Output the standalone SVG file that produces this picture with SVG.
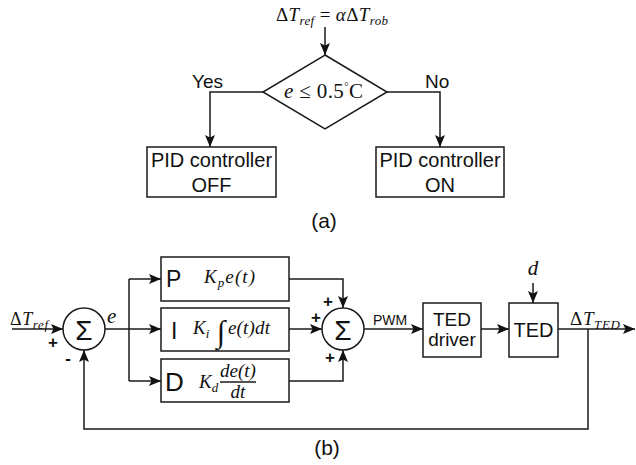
<svg xmlns="http://www.w3.org/2000/svg" width="636" height="465" viewBox="0 0 636 465">
<style>
.bx{fill:#fff;stroke:#1a1a1a;stroke-width:1.5}
.ln{fill:none;stroke:#1a1a1a;stroke-width:1.5}
.s{font-family:"Liberation Sans",Arial,sans-serif;fill:#111}
.m{font-family:"Liberation Serif","DejaVu Serif",serif;font-style:italic;fill:#111}
.u{font-style:normal}
.pl{font-family:"Liberation Sans",Arial,sans-serif;font-weight:bold;font-size:17px;fill:#111;text-anchor:middle}
</style>
<defs>
<marker id="ah" viewBox="0 0 12 10" refX="12" refY="5" markerWidth="12" markerHeight="10" markerUnits="userSpaceOnUse" orient="auto">
<path d="M0,0 L12,5 L0,10 L2.5,5 z" fill="#111"/>
</marker>
</defs>
<rect width="636" height="465" fill="#fff"/>

<g id="connectors" class="ln">
<path d="M325,27 V55" marker-end="url(#ah)"/>
<path d="M263,92 H210 V147" marker-end="url(#ah)"/>
<path d="M387,92 H440 V147" marker-end="url(#ah)"/>
<path d="M12,329 H63" marker-end="url(#ah)"/>
<path d="M105,329 H161" marker-end="url(#ah)"/>
<path d="M129,279 V381"/>
<path d="M129,279 H161" marker-end="url(#ah)"/>
<path d="M129,381 H161" marker-end="url(#ah)"/>
<path d="M289,279 H343 V308" marker-end="url(#ah)"/>
<path d="M289,329 H322" marker-end="url(#ah)"/>
<path d="M289,381 H343 V350" marker-end="url(#ah)"/>
<path d="M364,329 H423" marker-end="url(#ah)"/>
<path d="M481,329 H509" marker-end="url(#ah)"/>
<path d="M533,283 V303" marker-end="url(#ah)"/>
<path d="M558,329 H635" marker-end="url(#ah)"/>
<path d="M588,329 V429 H84 V350" marker-end="url(#ah)"/>
</g>

<g id="ref-label">
<text class="m" x="276" y="21" font-size="19" textLength="112"><tspan class="u">Δ</tspan>T<tspan font-size="13" dy="4">ref</tspan><tspan class="u" dy="-4"> = </tspan>α<tspan class="u">Δ</tspan>T<tspan font-size="13" dy="4">rob</tspan></text>
</g>

<g id="decision">
<polygon class="bx" points="325,55 387,92 325,129 263,92"/>
<text class="m" x="284" y="98" font-size="21" textLength="79">e<tspan class="u"> ≤ 0.5</tspan><tspan class="u" font-size="11" dy="-8">°</tspan><tspan class="u" dy="8">C</tspan></text>
</g>
<text class="s" x="192" y="88" font-size="19">Yes</text>
<text class="s" x="425" y="88" font-size="19">No</text>

<g id="pid-off">
<rect class="bx" x="147" y="147" width="129" height="50"/>
<text class="s" x="211.5" y="167" font-size="20" text-anchor="middle">PID controller</text>
<text class="s" x="211.5" y="192" font-size="20" text-anchor="middle">OFF</text>
</g>
<g id="pid-on">
<rect class="bx" x="376" y="147" width="128" height="50"/>
<text class="s" x="440" y="167" font-size="20" text-anchor="middle">PID controller</text>
<text class="s" x="440" y="192" font-size="20" text-anchor="middle">ON</text>
</g>
<text class="s" x="324" y="228" font-size="21" text-anchor="middle">(a)</text>

<g id="sum1">
<circle class="bx" cx="84" cy="329" r="21"/>
<text class="s" x="84" y="340" font-size="28" text-anchor="middle">Σ</text>
</g>
<text class="m" x="10" y="325" font-size="18" textLength="38"><tspan class="u">Δ</tspan>T<tspan font-size="13" dy="4">ref</tspan></text>
<text class="pl" x="53" y="348">+</text>
<text class="pl" x="68" y="364">-</text>
<text class="m" x="107" y="323" font-size="21">e</text>

<g id="p-block">
<rect class="bx" x="161" y="257" width="128" height="44"/>
<text class="s" x="166" y="287" font-size="23">P</text>
<text class="m" x="204" y="283" font-size="19" textLength="51">K<tspan font-size="13" dy="4">p</tspan><tspan dy="-4">e(t)</tspan></text>
</g>
<g id="i-block">
<rect class="bx" x="161" y="308" width="128" height="43"/>
<text class="s" x="171" y="339" font-size="23">I</text>
<text class="m" x="193" y="334" font-size="19">K<tspan font-size="13" dy="4">i</tspan></text>
<text class="m" x="221" y="342" font-size="31" text-anchor="middle">∫</text>
<text class="m" x="228" y="334" font-size="19" textLength="42">e(t)dt</text>
</g>
<g id="d-block">
<rect class="bx" x="161" y="359" width="128" height="43"/>
<text class="s" x="165" y="391" font-size="26">D</text>
<text class="m" x="199" y="388" font-size="19">K<tspan font-size="13" dy="4">d</tspan></text>
<text class="m" x="238" y="377" font-size="19" text-anchor="middle">de(t)</text>
<line class="ln" x1="220" y1="382" x2="256" y2="382" stroke-width="1.2"/>
<text class="m" x="238" y="398" font-size="19" text-anchor="middle">dt</text>
</g>

<g id="sum2">
<circle class="bx" cx="343" cy="329" r="21"/>
<text class="s" x="343" y="340" font-size="28" text-anchor="middle">Σ</text>
</g>
<text class="pl" x="328" y="307">+</text>
<text class="pl" x="316" y="323">+</text>
<text class="pl" x="330" y="363">+</text>
<text class="s" x="373" y="325" font-size="14">PWM</text>

<g id="ted-driver">
<rect class="bx" x="423" y="303" width="58" height="54"/>
<text class="s" x="452" y="326" font-size="19" text-anchor="middle">TED</text>
<text class="s" x="452" y="346" font-size="19" text-anchor="middle">driver</text>
</g>
<g id="ted">
<rect class="bx" x="509" y="303" width="49" height="54"/>
<text class="s" x="533.5" y="337" font-size="20" text-anchor="middle">TED</text>
</g>
<text class="m" x="533" y="275" font-size="21" text-anchor="middle">d</text>
<text class="m" x="570" y="325" font-size="19" textLength="50"><tspan class="u">Δ</tspan>T<tspan font-size="13" dy="4">TED</tspan></text>
<text class="s" x="327" y="455" font-size="21" text-anchor="middle">(b)</text>
</svg>
